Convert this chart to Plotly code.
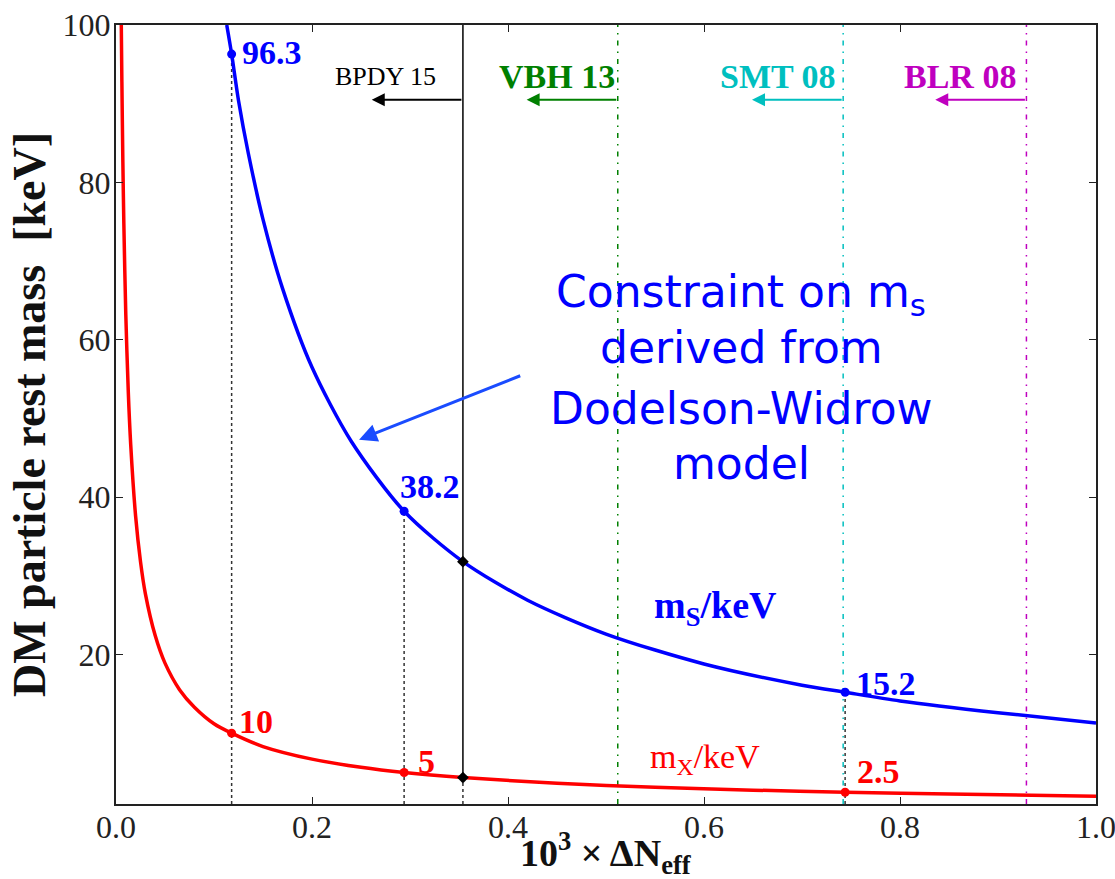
import plotly.graph_objects as go

# ---- data ----
dn_s = [0.113, 0.118, 0.125, 0.135, 0.15, 0.17, 0.2, 0.24, 0.294, 0.354, 0.42, 0.5, 0.6, 0.7, 0.744, 0.8, 0.9, 1.0]
m_s = [100, 96.3, 90.4, 83.7, 75.3, 66.5, 56.5, 47.1, 38.2, 31.8, 26.9, 22.6, 18.8, 16.1, 15.2, 14.1, 12.6, 11.3]

dn_x = [0.0054, 0.006, 0.007, 0.008, 0.01, 0.0125, 0.015, 0.02, 0.025, 0.03, 0.04, 0.05, 0.065, 0.08,
        0.1, 0.118, 0.15, 0.2, 0.25, 0.294, 0.354, 0.45, 0.55, 0.65, 0.744, 0.85, 1.0]
m_x = [100, 92.8, 82.6, 74.8, 63.2, 53.5, 46.7, 37.6, 31.8, 27.7, 22.4, 18.9, 15.5, 13.3,
       11.2, 10.0, 8.3, 6.7, 5.66, 5.0, 4.36, 3.64, 3.13, 2.76, 2.5, 2.26, 2.0]

pt_dn = [0.118, 0.294, 0.744]
pt_ms = [96.3, 38.2, 15.2]
pt_mx = [10, 5, 2.5]
pt_ms_labels = ["96.3", "38.2", "15.2"]
pt_mx_labels = ["10", "5", "2.5"]

bpdy_dn = 0.354
bpdy_ms = 31.8
bpdy_mx = 4.36

constraints = [0.354, 0.512, 0.742, 0.929]
constraint_names = ["BPDY 15", "<b>VBH 13</b>", "<b>SMT 08</b>", "<b>BLR 08</b>"]
constraint_colors = ["black", "#008000", "#00bfbf", "#bf00bf"]
constraint_label_x = [0.275, 0.4495, 0.675, 0.861]
constraint_label_size = [26, 34, 34, 34]
arrow_y = 90.5
arrow_len = 0.093

x_ticks = [0.0, 0.2, 0.4, 0.6, 0.8, 1.0]
y_ticks = [20, 40, 60, 80, 100]

SERIF = "Liberation Serif"
BLUE = "#0000ff"
RED = "#ff0000"

# label pixel offsets (style)
ms_off = [(8, 2), (-6, 25), (9, 9)]
mx_off = [(5, 12), (12, 11), (10, 21)]

fig = go.Figure()

# dotted drop lines from the highlighted points
for xv, yv in zip(pt_dn, pt_ms):
    fig.add_trace(go.Scatter(x=[xv, xv], y=[1, yv], mode="lines",
                             line=dict(color="#333333", width=1.5, dash="dot"), hoverinfo="skip"))
fig.add_trace(go.Scatter(x=[bpdy_dn, bpdy_dn], y=[1, bpdy_mx], mode="lines",
                         line=dict(color="#333333", width=1.5, dash="dot"), hoverinfo="skip"))

# constraint vertical lines
for i, (c, col) in enumerate(zip(constraints, constraint_colors)):
    if i == 0:
        fig.add_trace(go.Scatter(x=[c, c], y=[bpdy_mx, 100], mode="lines",
                                 line=dict(color=col, width=1.5), hoverinfo="skip"))
    else:
        fig.add_trace(go.Scatter(x=[c, c], y=[1, 100], mode="lines",
                                 line=dict(color=col, width=1.5, dash="5px,6px,1.5px,6px"),
                                 hoverinfo="skip"))

# curves
fig.add_trace(go.Scatter(x=dn_s, y=m_s, mode="lines", line=dict(color=BLUE, width=3.5, shape="spline", smoothing=0.8)))
fig.add_trace(go.Scatter(x=dn_x, y=m_x, mode="lines", line=dict(color=RED, width=3.5, shape="spline", smoothing=0.8)))

# points
fig.add_trace(go.Scatter(x=pt_dn, y=pt_ms, mode="markers", marker=dict(color=BLUE, size=9)))
fig.add_trace(go.Scatter(x=pt_dn, y=pt_mx, mode="markers", marker=dict(color=RED, size=9)))
fig.add_trace(go.Scatter(x=[bpdy_dn, bpdy_dn], y=[bpdy_ms, bpdy_mx], mode="markers",
                         marker=dict(color="black", size=9, symbol="diamond")))

ann = []
for xv, yv, t, (dx, dy) in zip(pt_dn, pt_ms, pt_ms_labels, ms_off):
    ann.append(dict(x=xv, y=yv, text=f"<b>{t}</b>", showarrow=False, xanchor="left", yanchor="middle",
                    xshift=dx, yshift=dy, font=dict(family=SERIF, size=34, color=BLUE)))
for xv, yv, t, (dx, dy) in zip(pt_dn, pt_mx, pt_mx_labels, mx_off):
    ann.append(dict(x=xv, y=yv, text=f"<b>{t}</b>", showarrow=False, xanchor="left", yanchor="middle",
                    xshift=dx, yshift=dy, font=dict(family=SERIF, size=34, color=RED)))

for c, name, col, lx, fs in zip(constraints, constraint_names, constraint_colors,
                                constraint_label_x, constraint_label_size):
    ann.append(dict(x=c - arrow_len, y=arrow_y, ax=c, ay=arrow_y, axref="x", ayref="y",
                    xref="x", yref="y", text="", showarrow=True, arrowhead=2, arrowsize=1.3,
                    arrowwidth=2, arrowcolor=col))
    ann.append(dict(x=lx, y=93.4, text=name, showarrow=False, xanchor="center", yanchor="middle",
                    font=dict(family=SERIF, size=fs, color=col)))

ann.append(dict(x=0.612, y=25.9, text="<b>m<sub>S</sub>/keV</b>", showarrow=False,
                font=dict(family=SERIF, size=38, color=BLUE)))
ann.append(dict(x=0.601, y=6.75, text="m<sub>X</sub>/keV", showarrow=False,
                font=dict(family=SERIF, size=34, color=RED)))

# big overlay note
note_lines = ["Constraint on m<sub>s</sub>", "derived from", "Dodelson-Widrow", "model"]
note_y = [65.7, 59.0, 51.3, 44.3]
for t, yv in zip(note_lines, note_y):
    ann.append(dict(x=0.638, y=yv, text=t, showarrow=False, xanchor="center", yanchor="middle",
                    font=dict(family="DejaVu Sans", size=44, color="#0000ff")))
ann.append(dict(x=0.248, y=47.3, ax=0.414, ay=55.5, axref="x", ayref="y", text="", showarrow=True,
                arrowhead=2, arrowsize=1.2, arrowwidth=3, arrowcolor="#1a4cff"))

# x-axis title placed in the bottom margin
ann.append(dict(x=0.5, y=0, xref="paper", yref="paper", yanchor="bottom", yshift=-78,
                text="<b>10<sup>3</sup> × ΔN<sub>eff</sub></b>", showarrow=False,
                font=dict(family=SERIF, size=38, color="#111")))

fig.update_layout(
    width=1115, height=879,
    margin=dict(l=116, r=19, t=25, b=75),
    paper_bgcolor="white", plot_bgcolor="white",
    showlegend=False,
    annotations=ann,
)
fig.update_xaxes(range=[0, 1], tickvals=x_ticks, ticktext=[f"{v:.1f}" for v in x_ticks],
                 ticks="inside", ticklen=7, tickcolor="#222", mirror="allticks",
                 showline=True, linecolor="#222", linewidth=2, showgrid=False, zeroline=False,
                 ticklabeloverflow="allow", automargin=False, ticklabelstandoff=-6,
                 tickfont=dict(family=SERIF, size=32, color="#222"))
fig.update_yaxes(range=[1, 100], tickvals=y_ticks, ticktext=[str(v) for v in y_ticks],
                 ticks="inside", ticklen=7, tickcolor="#222", mirror="allticks",
                 showline=True, linecolor="#222", linewidth=2, showgrid=False, zeroline=False,
                 ticklabeloverflow="allow", automargin=False, ticklabelstandoff=-3,
                 tickfont=dict(family=SERIF, size=32, color="#222"),
                 title=dict(text="<b>DM particle rest mass  [keV]</b>", standoff=2,
                            font=dict(family=SERIF, size=46, color="#111")))

fig.write_html("out.html")
